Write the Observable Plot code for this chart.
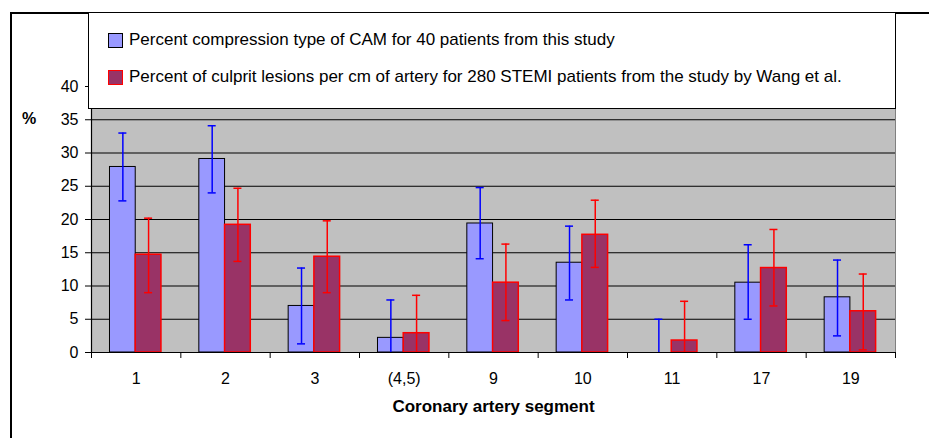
<!DOCTYPE html>
<html><head><meta charset="utf-8">
<script src="https://cdn.jsdelivr.net/npm/d3@7"></script>
<script src="https://cdn.jsdelivr.net/npm/@observablehq/plot@0.6"></script>
<style>
body{margin:0;background:#fff;overflow:hidden;font-family:"Liberation Sans",Arial,sans-serif;}
#wrap{position:relative;width:929px;height:438px;overflow:hidden;}
#outer{position:absolute;left:10px;top:12px;width:1000px;height:1000px;border:2px solid #000;box-sizing:border-box;}
#chart{position:absolute;left:0;top:0;}
#legend{position:absolute;left:88px;top:12px;width:808px;height:97px;background:#fff;border:1px solid #000;box-sizing:border-box;font-size:17px;color:#000;}
.item{position:absolute;left:19px;height:16px;display:flex;align-items:center;white-space:nowrap;}
.sw{width:15px;height:15px;box-sizing:border-box;margin-right:6px;}
#pct{position:absolute;left:22px;top:110px;font-size:16px;font-weight:bold;}
</style></head>
<body>
<div id="wrap">
  <div id="outer"></div>
  <div id="chart"></div>
  <div id="legend"></div>
  <div id="pct">%</div>
</div>
<script>
// Categories (coronary artery segments)
const segments = ["1", "2", "3", "(4,5)", "9", "10", "11", "17", "19"];
// Series 1: Percent compression type of CAM (40 patients, this study)
const camPct  = [27.9, 29.1, 7.0, 2.2, 19.4, 13.5, 0, 10.5, 8.3];
const camLow  = [22.8, 24.0, 1.3, 0, 14.1, 7.9, 0, 5.0, 2.5];
const camHigh = [33.0, 34.1, 12.7, 7.9, 24.8, 19.0, 5.0, 16.2, 13.9];
// Series 2: Percent of culprit lesions per cm (280 STEMI patients, Wang et al.)
const wangPct  = [14.7, 19.2, 14.4, 2.9, 10.5, 17.7, 1.8, 12.7, 6.2];
const wangLow  = [9.0, 13.7, 9.0, 0, 4.8, 12.8, 0, 7.0, 0.4];
const wangHigh = [20.2, 24.7, 19.8, 8.6, 16.3, 22.9, 7.7, 18.5, 11.8];
const yTicks = [0, 5, 10, 15, 20, 25, 30, 35, 40];
const seriesNames = [
  "Percent compression type of CAM for 40 patients from this study",
  "Percent of culprit lesions per cm of artery for 280 STEMI patients from the study by Wang et al."
];

const styles = [
  {fill: "#9999ff", stroke: "#000000", err: "#0000ff", x1: 0.207, x2: 0.495},
  {fill: "#993366", stroke: "#ff0000", err: "#ff0000", x1: 0.495, x2: 0.783}
];

const rows = [];
segments.forEach((seg, i) => {
  rows.push({seg, i, s: 0, v: camPct[i], lo: camLow[i], hi: camHigh[i]});
  rows.push({seg, i, s: 1, v: wangPct[i], lo: wangLow[i], hi: wangHigh[i]});
});
const cx = d => d.i + (styles[d.s].x1 + styles[d.s].x2) / 2;
const cap = 0.045;

const chart = Plot.plot({
  width: 929, height: 438,
  marginLeft: 91, marginRight: 34, marginTop: 86, marginBottom: 86,
  style: {fontFamily: "'Liberation Sans', Arial, sans-serif", fontSize: "16px", background: "transparent", color: "#000"},
  x: {domain: [0, segments.length], axis: null},
  y: {domain: [0, 40], axis: null},
  marks: [
    Plot.frame({fill: "#c0c0c0", stroke: "#808080"}),
    Plot.ruleY(yTicks.filter(d => d > 0), {stroke: "#000", strokeWidth: 1}),
    Plot.rect(rows.filter(d => d.v > 0), {
      x1: d => d.i + styles[d.s].x1, x2: d => d.i + styles[d.s].x2,
      y1: 0, y2: "v",
      fill: d => styles[d.s].fill, stroke: d => styles[d.s].stroke, strokeWidth: d => d.s ? 1.5 : 1
    }),
    Plot.ruleX(rows, {x: cx, y1: "lo", y2: "hi", stroke: d => styles[d.s].err, strokeWidth: 1.5}),
    Plot.ruleY(rows, {y: "hi", x1: d => cx(d) - cap, x2: d => cx(d) + cap, stroke: d => styles[d.s].err, strokeWidth: 1.5}),
    Plot.ruleY(rows.filter(d => d.lo > 0), {y: "lo", x1: d => cx(d) - cap, x2: d => cx(d) + cap, stroke: d => styles[d.s].err, strokeWidth: 1.5}),
    Plot.ruleY([0], {stroke: "#000", strokeWidth: 1.2}),
    Plot.ruleX([0], {y1: 0, y2: 40, stroke: "#000", strokeWidth: 1.2}),
    Plot.axisY({ticks: yTicks, tickSize: 6, tickPadding: 7, label: null, fontSize: 16}),
    Plot.axisX({ticks: d3.range(0, segments.length + 1), tickSize: 6, tickFormat: () => "", label: null}),
    Plot.axisX({ticks: segments.map((d, i) => i + 0.5), tickSize: 0, tickPadding: 20,
      tickFormat: d => segments[Math.floor(d)], label: null, fontSize: 16}),
    Plot.text(["Coronary artery segment"], {frameAnchor: "bottom", dy: 59, fontWeight: "bold", fontSize: 17})
  ]
});
document.getElementById("chart").appendChild(chart);

const leg = document.getElementById("legend");
seriesNames.forEach((name, k) => {
  const it = document.createElement("div");
  it.className = "item";
  it.style.top = (k === 0 ? 19 : 56) + "px";
  const sw = document.createElement("span");
  sw.className = "sw";
  sw.style.background = styles[k].fill;
  sw.style.border = "1px solid " + styles[k].stroke;
  const tx = document.createElement("span");
  tx.textContent = name;
  it.appendChild(sw); it.appendChild(tx);
  leg.appendChild(it);
});
</script>
</body></html>
